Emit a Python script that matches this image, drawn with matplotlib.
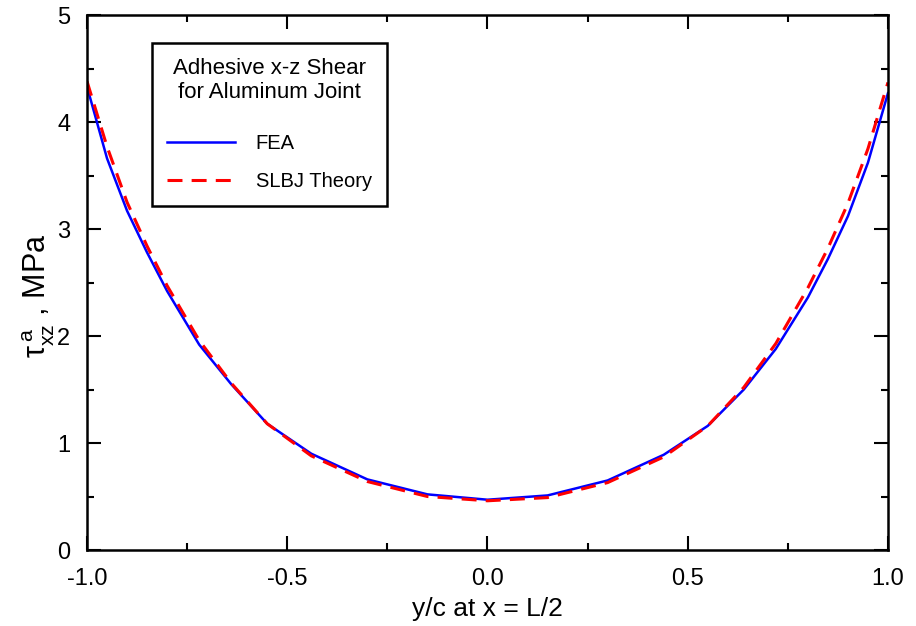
import matplotlib.pyplot as plt
from matplotlib.ticker import MultipleLocator

plt.rcParams['font.family'] = ['Liberation Sans', 'DejaVu Sans']
plt.rcParams['mathtext.fontset'] = 'custom'
plt.rcParams['mathtext.rm'] = 'Liberation Sans'
plt.rcParams['mathtext.it'] = 'Liberation Sans'

# FEA curve
fea_x = [-1.0, -0.95, -0.9, -0.85, -0.8, -0.72, -0.64, -0.55, -0.44, -0.3, -0.15, 0.0,
         0.15, 0.3, 0.44, 0.55, 0.64, 0.72, 0.8, 0.85, 0.9, 0.95, 1.0]
fea_y = [4.33, 3.66, 3.17, 2.78, 2.42, 1.92, 1.55, 1.18, 0.90, 0.66, 0.52, 0.47,
         0.51, 0.65, 0.89, 1.16, 1.50, 1.88, 2.36, 2.72, 3.12, 3.62, 4.27]

# SLBJ theory curve
th_x = [-1.0, -0.95, -0.9, -0.85, -0.8, -0.72, -0.64, -0.55, -0.44, -0.3, -0.15, 0.0,
        0.15, 0.3, 0.44, 0.55, 0.64, 0.72, 0.8, 0.85, 0.9, 0.95, 1.0]
th_y = [4.38, 3.77, 3.25, 2.84, 2.47, 1.96, 1.56, 1.18, 0.88, 0.64, 0.50, 0.46,
        0.49, 0.63, 0.87, 1.16, 1.52, 1.93, 2.45, 2.82, 3.24, 3.75, 4.37]

fig = plt.figure(figsize=(9.16, 6.26), dpi=100)
ax = fig.add_axes([0.095, 0.1214, 0.8744, 0.8546])

ax.plot(fea_x, fea_y, color='blue', lw=1.8, label='FEA')
ax.plot(th_x, th_y, color='red', lw=2.2, dashes=(4.9, 3), label='SLBJ Theory')

ax.set_xlim(-1, 1)
ax.set_ylim(0, 5)
ax.xaxis.set_minor_locator(MultipleLocator(0.25))
ax.yaxis.set_major_locator(MultipleLocator(1))
ax.yaxis.set_minor_locator(MultipleLocator(0.5))
ax.set_xticks([-1, -0.5, 0, 0.5, 1])
ax.set_xticklabels(['-1.0', '-0.5', '0.0', '0.5', '1.0'])
ax.tick_params(which='both', direction='in', top=True, right=True, width=1.5,
               labelsize=17)
ax.tick_params(axis='x', pad=13)
ax.tick_params(axis='y', pad=12)
ax.tick_params(which='major', length=10)
ax.tick_params(which='minor', length=5)
for s in ax.spines.values():
    s.set_linewidth(1.8)

ax.set_xlabel('y/c at x = L/2', fontsize=19, labelpad=5)
ax.set_ylabel(r'$\tau_{xz}^{\,a}$ , MPa', fontsize=22, labelpad=0)
ax.yaxis.label.set_y(0.475)

leg = ax.legend(loc='upper left', bbox_to_anchor=(0.081, 0.948),
                title='Adhesive x-z Shear\nfor Aluminum Joint',
                fontsize=14.5, title_fontsize=16, handlelength=3.4,
                handletextpad=1.0, labelspacing=0.95, borderpad=0.75,
                borderaxespad=0, fancybox=False, framealpha=1)
leg.get_frame().set_edgecolor('black')
leg.get_frame().set_linewidth(1.8)
leg.get_title().set_multialignment('center')
leg._legend_box.sep = 22

fig.savefig('out.png', dpi=100)
